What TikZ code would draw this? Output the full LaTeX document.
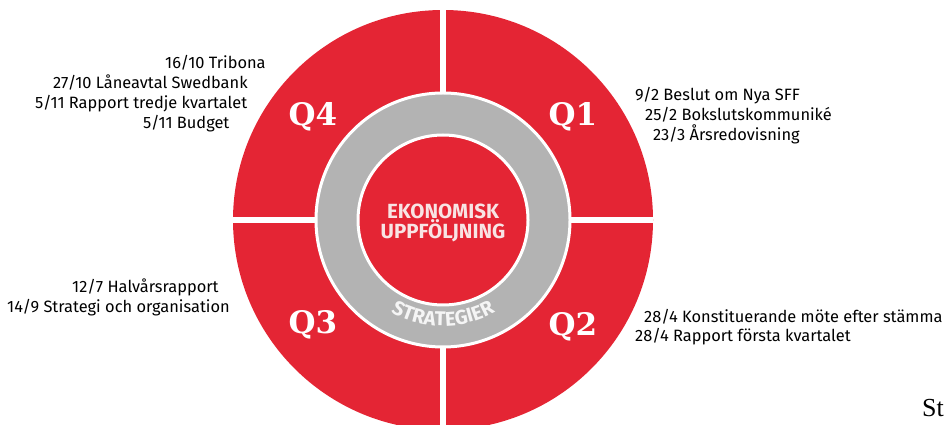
\documentclass[tikz,border=0pt]{standalone}
\usepackage{fontspec}
\setmainfont{Fira Sans}
\newfontfamily\qfont{DejaVu Serif}
\newfontfamily\serfont{Liberation Serif}
\usetikzlibrary{positioning, decorations.text}

\definecolor{wheelred}{RGB}{228,37,52}
\definecolor{ringgray}{RGB}{179,179,179}
\definecolor{paletext}{RGB}{248,228,228}

\begin{document}
\begin{tikzpicture}[x=1pt, y=1pt,
    datelist/.style={font=\fontsize{16.4}{19}\selectfont, inner sep=0pt, anchor=base west},
    quarter/.style={font=\qfont\bfseries\fontsize{31}{31}\selectfont, text=white, inner sep=0pt},
    centertext/.style={font=\bfseries\fontsize{20.5}{22}\selectfont, text=paletext, inner sep=0pt}]
        \useasboundingbox (0,0) rectangle (944,425);
        \clip (0,0) rectangle (944,425);
        \coordinate (c) at (443,205);

        % wheel
        \fill[wheelred] (c) circle (210);
        \draw[white, line width=6] (443,-10) -- (443,420);
        \draw[white, line width=6] (233,205) -- (653,205);
        \fill[ringgray] (c) circle (127);
        \draw[white, line width=3] (c) circle (127);
        \fill[wheelred] (c) circle (85);
        \draw[white, line width=3] (c) circle (85);

        \node[centertext] (eko) at (443,214) {EKONOMISK};
        \node[centertext] (upp) at (443,194) {UPPFÖLJNING};
        \path[decorate, decoration={text along path, text align=center,
            text color=white!92!gray,
            text={|\bfseries\fontsize{20}{20}\selectfont|STRATEGIER}}]
            (c) ++(228:106) arc[start angle=228, end angle=312, radius=106];

        \foreach \x/\y/\q in {313/308/Q4, 573/308/Q1, 313/100/Q3, 573/98/Q2}
        \node[quarter] (\q) at (\x,\y) {\q};

        % dates
        \foreach \x/\y/\t [count=\i] in {165/356/{16/10 Tribona}, 53/336/{27/10 Låneavtal Swedbank},
            35/316/{5/11 Rapport tredje kvartalet}, 143/296/{5/11 Budget}}
        \node[datelist] (fourth\i) at (\x,\y) {\t};
        \foreach \x/\y/\t [count=\i] in {635/324/{9/2 Beslut om Nya SFF}, 645/304/{25/2 Bokslutskommuniké},
            653/284/{23/3 Årsredovisning}}
        \node[datelist] (first\i) at (\x,\y) {\t};
        \foreach \x/\y/\t [count=\i] in {72/132/{12/7 Halvårsrapport}, 7/112/{14/9 Strategi och organisation}}
        \node[datelist] (third\i) at (\x,\y) {\t};
        \foreach \x/\y/\t [count=\i] in {644/102/{28/4 Konstituerande möte efter stämma},
            635/83/{28/4 Rapport första kvartalet}}
        \node[datelist] (second\i) at (\x,\y) {\t};

        \node[font=\serfont\fontsize{26}{26}\selectfont, inner sep=0pt, anchor=base west] (cut) at (922,8) {St};
    \end{tikzpicture}
\end{document}
